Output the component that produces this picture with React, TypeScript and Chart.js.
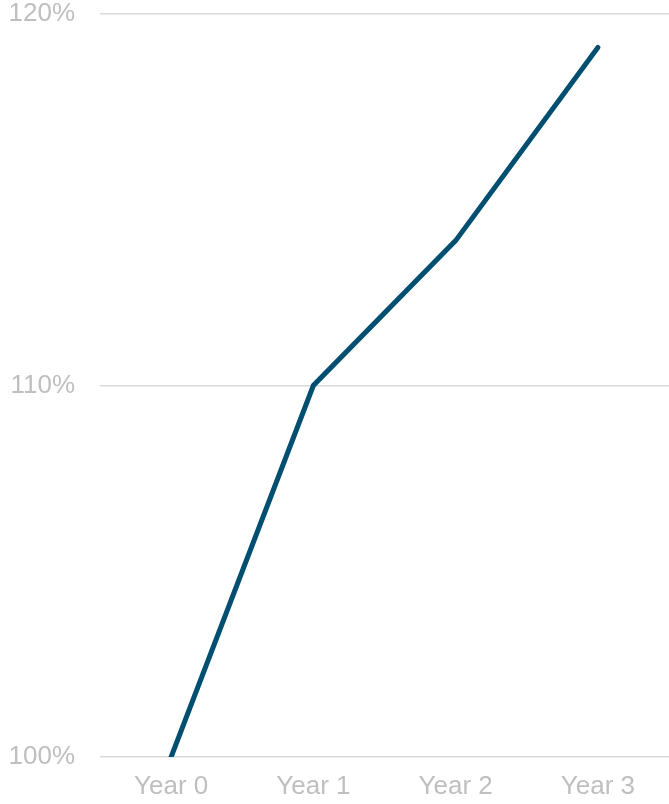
import React, { useEffect, useRef } from "react";
import { Chart, registerables } from "chart.js";

Chart.register(...registerables);

const categories = ["Year 0", "Year 1", "Year 2", "Year 3"];
const values = [100, 110, 113.9, 119.1];
const yTicks = [100, 110, 120];

const FONT = "'Liberation Sans', Arial, sans-serif";

export default function App() {
  const ref = useRef<HTMLCanvasElement>(null);
  useEffect(() => {
    if (!ref.current) return;
    const chart = new Chart(ref.current, {
      type: "line",
      data: {
        labels: categories,
        datasets: [
          {
            data: values,
            borderColor: "#004f71",
            borderWidth: 5,
            pointRadius: 0,
            tension: 0,
            borderCapStyle: "round",
            borderJoinStyle: "miter",
          },
        ],
      },
      options: {
        animation: false,
        responsive: false,
        maintainAspectRatio: false,
        layout: { padding: { top: 14, right: 0, left: 0, bottom: 0 } },
        plugins: { legend: { display: false }, tooltip: { enabled: false } },
        scales: {
          x: {
            offset: true,
            grid: { display: false, drawTicks: false },
            border: { display: false },
            ticks: {
              color: "#bfbfbf",
              font: { family: FONT, size: 26 },
              padding: 14,
              maxRotation: 0,
            },
            afterFit: (s: any) => {
              s.height = 47;
              s.paddingLeft = 0;
              s.paddingRight = 0;
            },
          },
          y: {
            min: 100,
            max: 120,
            afterBuildTicks: (s: any) => {
              s.ticks = yTicks.map((v) => ({ value: v }));
            },
            grid: { color: "#d9d9d9", lineWidth: 1.5, drawTicks: false },
            border: { display: false },
            ticks: {
              color: "#bfbfbf",
              font: { family: FONT, size: 26 },
              padding: 25,
              callback: (v: any) => `${v}%`,
            },
            afterFit: (s: any) => {
              s.width = 100;
              s.paddingTop = 0;
              s.paddingBottom = 0;
            },
          },
        },
      },
    });
    return () => chart.destroy();
  }, []);
  return (
    <div style={{ position: "fixed", left: 0, top: 0, width: 669, height: 804, background: "#fff" }}>
      <canvas ref={ref} width={669} height={804} style={{ display: "block" }} />
    </div>
  );
}
